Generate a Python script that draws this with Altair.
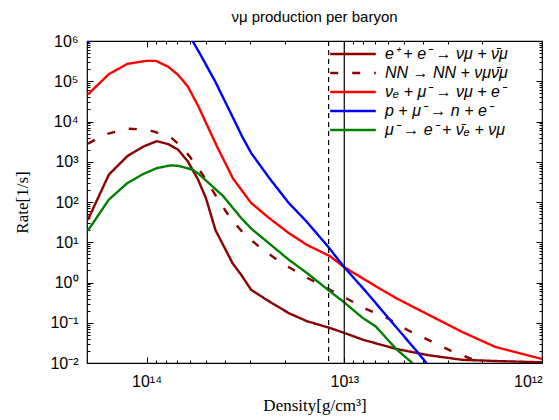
import altair as alt
import pandas as pd

TITLE = "νμ production per baryon"
X_TITLE = "Density[g/cm³]"
Y_TITLE = "Rate[1/s]"

series_labels = [
    "e⁺ + e⁻ → νμ + ν̄μ",
    "NN → NN + νμν̄μ",
    "νₑ + μ⁻ → νμ + e⁻",
    "p + μ⁻ → n + e⁻",
    "μ⁻ → e⁻ + ν̄ₑ + νμ",
]
series_colors = ["#8b0000", "#8b0000", "#ff0000", "#0000ff", "#008000"]
series_dashes = [[1, 0], [8, 14], [1, 0], [1, 0], [1, 0]]

# e+ e- annihilation
ee_rho = [1.98e14, 1.55e14, 1.25e14, 1.035e14, 8.89e13, 7.78e13, 6.93e13, 6.18e13, 5.48e13,
          5.01e13, 4.48e13, 3.67e13, 3.32e13, 2.96e13, 2.40e13, 1.91e13, 1.55e13, 1.18e13,
          1.0e13, 8.07e12, 5.47e12, 3.72e12, 2.53e12, 1.72e12, 1.0e12]
ee_rate = [36, 480, 1380, 2400, 3240, 2750, 2000, 1020, 355,
           126, 20, 3.0, 1.55, 0.66, 0.34, 0.174, 0.11, 0.074,
           0.056, 0.038, 0.0224, 0.0155, 0.012, 0.0112, 0.0104]

# NN bremsstrahlung
nn_rho = [1.98e14, 1.64e14, 1.25e14, 1.0e14, 9.06e13, 7.48e13, 6.79e13, 6.07e13, 5.20e13,
          4.39e13, 3.77e13, 3.19e13, 2.59e13, 2.06e13, 1.64e13, 1.01e13, 7.76e12, 6.03e12,
          4.79e12, 3.65e12, 2.90e12, 2.25e12, 1.72e12]
nn_rate = [2800, 4700, 6600, 6300, 5500, 3900, 2600, 1380, 480,
           126, 40, 15.5, 6.6, 3.0, 1.55, 0.44, 0.22, 0.129,
           0.066, 0.035, 0.0204, 0.0123, 0.0074]

# nu_e + mu- -> nu_mu + e-
nue_rho = [1.98e14, 1.55e14, 1.25e14, 1.01e14, 8.95e13, 7.78e13, 6.93e13, 6.18e13, 5.45e13,
           4.42e13, 3.65e13, 2.96e13, 2.40e13, 1.91e13, 1.55e13, 1.18e13, 1.0e13, 6.93e12,
           5.47e12, 3.72e12, 2.53e12, 1.72e12, 1.0e12]
nue_rate = [4.7e4, 1.5e5, 2.7e5, 3.2e5, 3.2e5, 2.3e5, 1.45e5, 7.4e4, 2.3e4,
            2.5e3, 380, 95, 40, 17, 8.7, 4.5, 2.4, 0.81,
            0.41, 0.155, 0.059, 0.025, 0.0126]

# p + mu- -> n + e-
pmu_rho = [1.98e14, 1.8e14, 1.4e14, 1.0e14, 7.5e13, 5.96e13, 5.45e13, 4.50e13, 3.65e13,
           3.29e13, 2.96e13, 2.40e13, 1.91e13, 1.58e13, 1.23e13, 1.0e13, 7.78e12, 5.57e12,
           4.26e12, 3.61e12]
pmu_rate = [8.9e5, 2.0e6, 6.3e6, 1.0e7, 5.0e6, 1.17e6, 5.5e5, 1.0e5, 1.23e4,
            4.3e3, 1.66e3, 400, 95, 36, 8.7, 2.4, 0.6, 0.087,
            0.0186, 0.0068]

# mu- decay
mu_rho = [1.98e14, 1.55e14, 1.25e14, 1.035e14, 8.89e13, 7.62e13, 6.93e13, 5.83e13, 5.45e13,
          4.1e13, 3.32e13, 2.96e13, 1.91e13, 1.55e13, 1.18e13, 1.0e13, 8.07e12, 6.93e12,
          5.47e12, 4.18e12]
mu_rate = [19.5, 115, 295, 500, 690, 810, 795, 630, 500,
           141, 40, 22, 3.7, 1.74, 0.60, 0.32, 0.132, 0.081,
           0.0224, 0.0071]

vline_dashed = [1.2e13]
vline_solid = [1.0e13]

x_major = [1e14, 1e13, 1e12]
y_major = [1e-2, 1e-1, 1e0, 1e1, 1e2, 1e3, 1e4, 1e5, 1e6]
x_minor = [k * 10.0 ** e for e in (12, 13) for k in range(2, 10)] + [2e14]
y_minor = [k * 10.0 ** e for e in range(-2, 6) for k in range(2, 10)]

sup = {-2: "⁻²", -1: "⁻¹", 0: "⁰", 1: "¹", 2: "²", 3: "³", 4: "⁴", 5: "⁵", 6: "⁶",
       12: "¹²", 13: "¹³", 14: "¹⁴"}
chain = "''"
for e, s in sup.items():
    chain = f"(round(log(datum.value)/LN10) == {e} ? '{s}' : {chain})"
label_expr = "'10' + " + chain

rows = []
for lab, rho, rate in zip(series_labels,
                          [ee_rho, nn_rho, nue_rho, pmu_rho, mu_rho],
                          [ee_rate, nn_rate, nue_rate, pmu_rate, mu_rate]):
    for d, r in zip(rho, rate):
        rows.append({"series": lab, "density": d, "rate": r})
df = pd.DataFrame(rows)

xscale = alt.Scale(type="log", domain=[1e12, 2e14], reverse=True, nice=False)
yscale = alt.Scale(type="log", domain=[1e-2, 1e6], nice=False)


def make_axis(orient, values, size, with_labels, pad=0, tpad=0):
    kw = dict(orient=orient, values=values, tickSize=size, offset=-size,
              labels=with_labels, domain=False, grid=False, ticks=True,
              tickColor="black", tickWidth=1)
    if with_labels:
        kw.update(labelExpr=label_expr, labelPadding=pad, labelFont="Liberation Sans",
                  labelFontSize=16, labelColor="black", titlePadding=tpad)
    return alt.Axis(**kw)


legend = alt.Legend(title=None, orient="none", legendX=255, legendY=2,
                    symbolType="M-2.4,0H2.4", symbolSize=361, symbolStrokeWidth=2.5,
                    symbolFillColor="transparent",
                    labelFont="Liberation Sans", labelFontStyle="italic",
                    labelFontSize=16, labelColor="black", labelOffset=21,
                    labelLimit=300, padding=0, rowPadding=0)

base = alt.Chart(df)

lines = base.mark_line(clip=True, strokeWidth=2.4).encode(
    x=alt.X("density:Q", scale=xscale, title=X_TITLE,
            axis=make_axis("bottom", x_major, 6, True, pad=10, tpad=8)),
    y=alt.Y("rate:Q", scale=yscale, title=Y_TITLE,
            axis=make_axis("left", y_major, 6, True, pad=9, tpad=18)),
    color=alt.Color("series:N", scale=alt.Scale(domain=series_labels, range=series_colors),
                    legend=legend, sort=series_labels),
    strokeDash=alt.StrokeDash("series:N", scale=alt.Scale(domain=series_labels, range=series_dashes),
                              legend=legend, sort=series_labels),
)


def tick_layer(xo, yo, xv, yv, size):
    return base.mark_line(opacity=0, clip=True).encode(
        x=alt.X("density:Q", scale=xscale, title=None, axis=make_axis(xo, xv, size, False)),
        y=alt.Y("rate:Q", scale=yscale, title=None, axis=make_axis(yo, yv, size, False)),
    )


minor_bl = tick_layer("bottom", "left", x_minor, y_minor, 3)
major_tr = tick_layer("top", "right", x_major, y_major, 6)
minor_tr = tick_layer("top", "right", x_minor, y_minor, 3)

rule_dashed = alt.Chart(pd.DataFrame({"density": vline_dashed})).mark_rule(
    color="black", strokeWidth=1.2, strokeDash=[5, 4]).encode(
    x=alt.X("density:Q", scale=xscale, axis=None))
rule_solid = alt.Chart(pd.DataFrame({"density": vline_solid})).mark_rule(
    color="black", strokeWidth=1.2).encode(
    x=alt.X("density:Q", scale=xscale, axis=None))

chart = alt.layer(lines, minor_bl, major_tr, minor_tr, rule_dashed, rule_solid).resolve_axis(
    x="independent", y="independent"
).properties(
    width=455, height=322,
    title=alt.TitleParams(TITLE, font="Liberation Sans", fontSize=15, fontWeight="normal",
                          color="black", anchor="middle", frame="group", offset=8),
    autosize=alt.AutoSizeParams(type="none"),
    padding={"left": 87, "top": 41, "right": 17, "bottom": 57},
).configure_view(stroke="black", strokeWidth=1.2).configure_axis(
    titleFont="Liberation Serif", titleFontSize=17, titleFontWeight="normal", titleColor="black"
)

chart.save("out.html", embed_options={"renderer": "svg", "actions": False})
